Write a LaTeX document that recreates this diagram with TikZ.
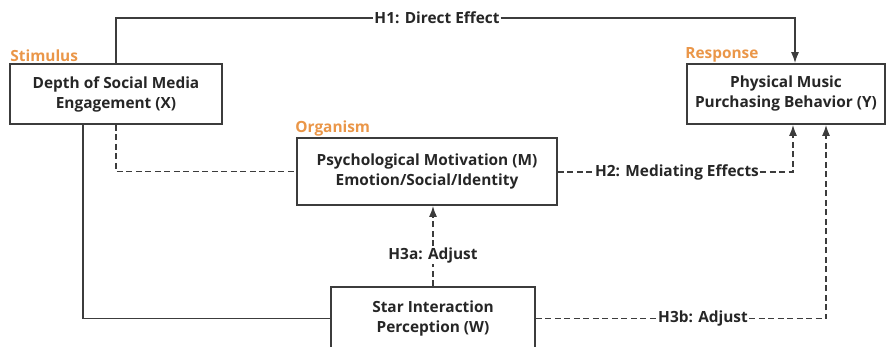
\documentclass[tikz,border=0pt]{standalone}
\usepackage{fontspec}
\setmainfont{Open Sans}
\usetikzlibrary{arrows.meta,positioning}
\definecolor{linegray}{RGB}{60,60,60}
\definecolor{tagorange}{RGB}{234,150,72}

\begin{document}
\begin{tikzpicture}[x=1pt,y=-1pt,
    font=\fontsize{15.4}{20}\selectfont\bfseries,
    box/.style={draw=linegray,line width=1.6pt,align=center,inner sep=0pt,text=black!85},
    tag/.style={text=tagorange,inner sep=1pt},
    lab/.style={fill=white,inner sep=1pt,text=black!85},
    link/.style={draw=linegray,line width=1.6pt},
    dashlink/.style={link,dash pattern=on 6pt off 3.5pt},
    arrowed/.style={-{Latex[length=11pt,width=8pt]}}]
  \useasboundingbox (0,0) rectangle (890,347);
  \node[box,minimum width=212pt,minimum height=60pt] (X) at (116,94)
    {Depth of Social Media\\Engagement (X)};
  \node[box,minimum width=198pt,minimum height=60pt] (Y) at (786,94)
    {Physical Music\\Purchasing Behavior (Y)};
  \node[box,minimum width=260pt,minimum height=67pt] (M) at (427,171.5)
    {Psychological Motivation (M)\\Emotion/Social/Identity};
  \node[box,minimum width=204pt,minimum height=63pt] (W) at (433,318.5)
    {Star Interaction\\Perception (W)};
  \node[tag,above right=0pt and 0pt of X.north west] (stim) {Stimulus};
  \node[tag,above right=0pt and -2pt of M.north west] (org) {Organism};
  \node[tag,above right=0pt and -2pt of Y.north west] (resp) {Response};
  \node[lab] (h1) at (437,18) {H1: Direct Effect};
  \node[lab] (h2) at (677,172) {H2: Mediating Effects};
  \node[lab] (h3a) at (433,255) {H3a: Adjust};
  \node[lab] (h3b) at (703,318.5) {H3b: Adjust};
  \draw[link] (X.north) |- (h1.west);
  \draw[link,arrowed] (h1.east) -| ([xshift=9pt]Y.north);
  \draw[dashlink] (X.south) |- (M.west);
  \draw[dashlink] (M.east |- h2.west) -- (h2.west);
  \draw[dashlink,arrowed] (h2.east) -| ([xshift=7pt]Y.south);
  \draw[link] ([xshift=-33pt]X.south) |- (W.west);
  \draw[dashlink] (W.north) -- (h3a.south);
  \draw[dashlink,arrowed] (h3a.north) -- (h3a.north |- M.south);
  \draw[dashlink] (W.east) -- (h3b.west);
  \draw[dashlink,arrowed] (h3b.east) -| ([xshift=40pt]Y.south);
\end{tikzpicture}
\end{document}
